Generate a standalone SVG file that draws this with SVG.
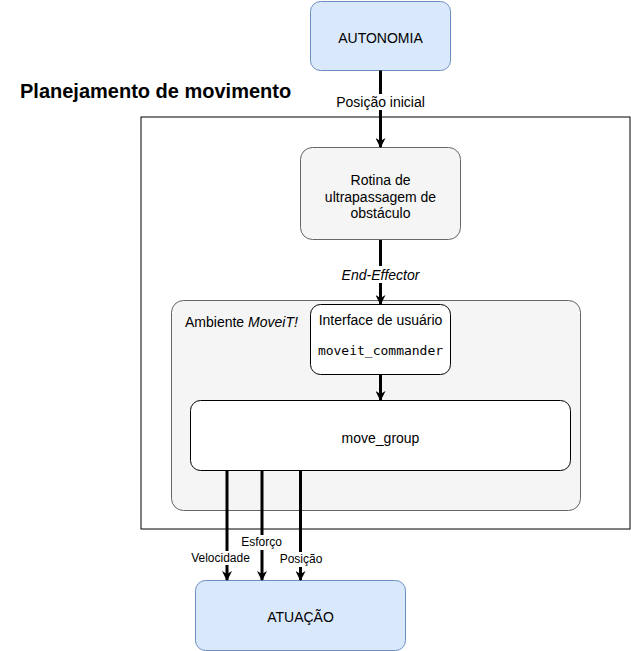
<svg xmlns="http://www.w3.org/2000/svg" width="631" height="651" viewBox="0 0 631 651">
<defs>
<marker id="arr" markerWidth="10" markerHeight="10" viewBox="0 0 10 10" refX="9" refY="5" orient="auto" markerUnits="userSpaceOnUse">
<path d="M0,0 L10,5 L0,10 L3,5 Z" fill="#000"/>
</marker>
<style>
text{font-family:"Liberation Sans",Arial,sans-serif;fill:#000}
.t14{font-size:14px}
.t12{font-size:12px}
.mid{text-anchor:middle}
.blue{fill:#dae8fc;stroke:#6c8ebf;stroke-width:1}
.grey{fill:#f5f5f5;stroke:#666666;stroke-width:1}
.white{fill:#ffffff;stroke:#000000;stroke-width:1}
.edge{stroke:#000;stroke-width:3;fill:none;marker-end:url(#arr)}
.lbl{fill:#fff}
</style>
</defs>
<rect width="631" height="651" fill="#ffffff"/>

<g id="planejamento">
<rect x="141" y="117" width="489" height="412" fill="#ffffff" stroke="#000" stroke-width="1"/>
<text x="20" y="98" style="font-size:20px;font-weight:bold">Planejamento de movimento</text>
</g>

<g id="autonomia">
<rect class="blue" x="310.5" y="1.5" width="140" height="69" rx="10"/>
<text class="t14 mid" x="380.5" y="43">AUTONOMIA</text>
</g>

<g id="rotina">
<rect class="grey" x="300.5" y="147.5" width="160" height="92" rx="12"/>
<text class="t14 mid" x="380.5" y="185">Rotina de</text>
<text class="t14 mid" x="380.5" y="201.5">ultrapassagem de</text>
<text class="t14 mid" x="380.5" y="218">obstáculo</text>
</g>

<g id="ambiente">
<rect class="grey" x="171.5" y="300.5" width="409" height="210" rx="12"/>
<text class="t14" x="185" y="327">Ambiente <tspan font-style="italic">MoveiT!</tspan></text>
</g>

<g id="interface">
<rect class="white" x="310.5" y="304.5" width="140" height="70" rx="10"/>
<text class="t14 mid" x="380.5" y="325">Interface de usuário</text>
<text class="mid" x="380.5" y="355" style="font-family:'DejaVu Sans Mono','Liberation Mono',monospace;font-size:13px">moveit_commander</text>
</g>

<g id="move_group">
<rect class="white" x="190.5" y="400.5" width="380" height="70" rx="10"/>
<text class="t14 mid" x="380.5" y="443">move_group</text>
</g>

<g id="atuacao">
<rect class="blue" x="195.5" y="580.5" width="210" height="70" rx="10"/>
<text class="t14 mid" x="300.5" y="622">ATUAÇÃO</text>
</g>

<g id="connectors">
<line class="edge" x1="380.5" y1="70.5" x2="380.5" y2="147"/>
<rect class="lbl" x="335" y="94" width="91" height="16"/>
<text class="t14 mid" x="380.5" y="107">Posição inicial</text>

<line class="edge" x1="380.5" y1="240" x2="380.5" y2="304"/>
<rect class="lbl" x="340" y="266" width="82" height="17"/>
<text class="t14 mid" x="380.5" y="280" font-style="italic">End-Effector</text>

<line class="edge" x1="380.5" y1="375" x2="380.5" y2="400"/>

<line class="edge" x1="227" y1="470.5" x2="227" y2="580"/>
<line class="edge" x1="262" y1="470.5" x2="262" y2="580"/>
<line class="edge" x1="300.5" y1="470.5" x2="300.5" y2="580"/>
<rect class="lbl" x="190" y="551" width="61" height="14"/>
<text class="t12 mid" x="220.5" y="562">Velocidade</text>
<rect class="lbl" x="241" y="535" width="41" height="15"/>
<text class="t12 mid" x="261.5" y="546">Esforço</text>
<rect class="lbl" x="279" y="552" width="44" height="15"/>
<text class="t12 mid" x="301" y="563">Posição</text>
</g>
</svg>
